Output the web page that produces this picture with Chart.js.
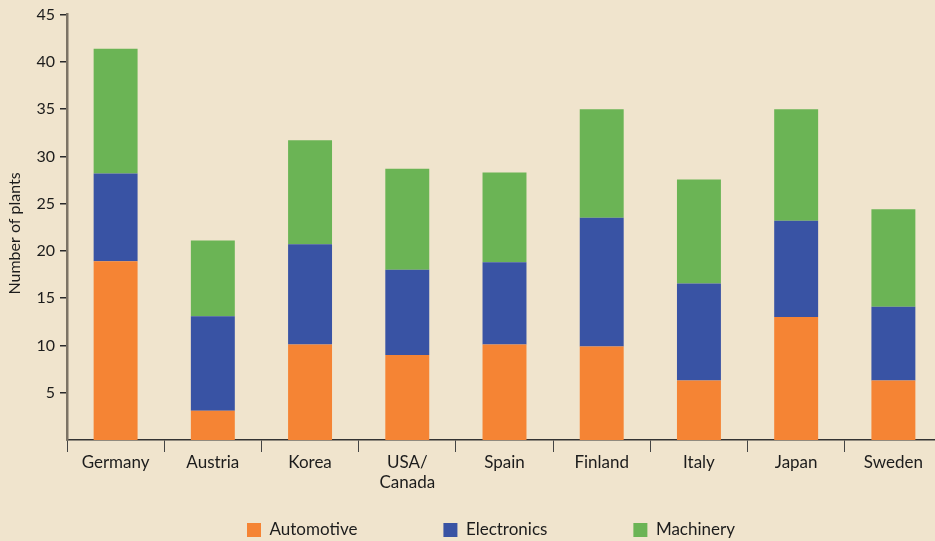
<!DOCTYPE html>
<html>
<head>
<meta charset="utf-8">
<script src="https://cdn.jsdelivr.net/npm/chart.js@4.4.0/dist/chart.umd.min.js"></script>
<style>
  html, body { margin: 0; padding: 0; background: #F0E4CD; overflow: hidden; }
  #wrap { position: relative; width: 960px; height: 541px; }
</style>
</head>
<body>
<div id="wrap"><canvas id="c"></canvas></div>
<script>
const categories = ['Germany', 'Austria', 'Korea', ['USA/', 'Canada'], 'Spain', 'Finland', 'Italy', 'Japan', 'Sweden'];
const automotive = [18.9, 3.1, 10.1, 9.0, 10.1, 9.9, 6.3, 13.0, 6.3];
const electronics = [9.3, 10.0, 10.6, 9.0, 8.7, 13.6, 10.25, 10.2, 7.8];
const machinery = [13.2, 8.0, 11.0, 10.7, 9.5, 11.5, 11.0, 11.8, 10.3];
const yTicks = [5, 10, 15, 20, 25, 30, 35, 40, 45];

const FONT = 'Lato, "Open Sans", sans-serif';
const TXT = '#1c1c1c';

const legendPlace = {
  id: 'legendPlace',
  afterLayout(chart) {
    const lg = chart.legend;
    if (!lg) return;
    const pad = lg.options.labels.padding;
    lg.left = 247 - pad;
    lg.right = 960;
    lg.width = lg.right - lg.left;
    lg.top = 521.5 - pad;
    lg.bottom = 541;
    lg.height = lg.bottom - lg.top;
  }
};

new Chart(document.getElementById('c'), {
  type: 'bar',
  data: {
    labels: categories,
    datasets: [
      { label: 'Automotive', data: automotive, backgroundColor: '#F58434', borderWidth: 0 },
      { label: 'Electronics', data: electronics, backgroundColor: '#3953A4', borderWidth: 0 },
      { label: 'Machinery', data: machinery, backgroundColor: '#6BB455', borderWidth: 0 }
    ]
  },
  options: {
    responsive: true,
    maintainAspectRatio: false,
    animation: false,
    layout: { padding: { top: 14, right: 18, left: 0, bottom: 0 } },
    datasets: { bar: { categoryPercentage: 1.0, barPercentage: 0.452 } },
    plugins: {
      tooltip: { enabled: false },
      legend: {
        position: 'bottom',
        align: 'start',
        maxHeight: 41,
        labels: {
          boxWidth: 14,
          boxHeight: 14,
          padding: 86,
          color: TXT,
          font: { family: FONT, size: 17 }
        }
      }
    },
    scales: {
      x: {
        stacked: true,
        afterFit(s) { s.height = 60; },
        grid: {
          display: true,
          drawOnChartArea: false,
          drawTicks: true,
          tickLength: 12,
          color: '#444',
          lineWidth: 1,
          offset: true
        },
        border: { display: true, color: '#333', width: 1.5 },
        ticks: {
          color: TXT,
          padding: 0,
          maxRotation: 0,
          autoSkip: false,
          font: { family: FONT, size: 17, lineHeight: 1.2 }
        }
      },
      y: {
        stacked: true,
        min: 0,
        max: 45,
        afterFit(s) { s.width = 67; },
        afterBuildTicks(s) { s.ticks = yTicks.map(v => ({ value: v })); },
        grid: {
          display: true,
          drawOnChartArea: false,
          drawTicks: true,
          tickLength: 7,
          color: '#2a2a2a',
          lineWidth: 1.5
        },
        border: { display: true, color: '#7c7365', width: 2.5 },
        ticks: {
          color: TXT,
          padding: 5,
          font: { family: FONT, size: 16 }
        },
        title: {
          display: true,
          text: 'Number of plants\u00A0\u00A0\u00A0',
          color: TXT,
          padding: { top: 5, bottom: 0 },
          font: { family: FONT, size: 16 }
        }
      }
    }
  },
  plugins: [legendPlace]
});
</script>
</body>
</html>
